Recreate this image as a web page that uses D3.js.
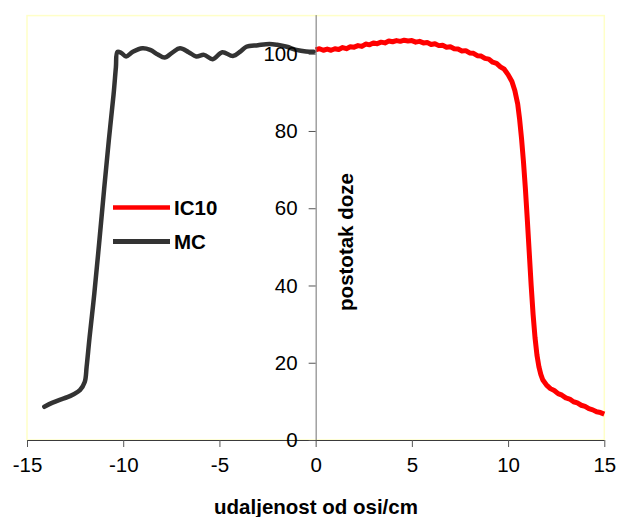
<!DOCTYPE html>
<html>
<head>
<meta charset="utf-8">
<script src="https://cdn.jsdelivr.net/npm/d3@7"></script>
<style>
  html, body { margin: 0; padding: 0; background: #fff; }
  svg { display: block; font-family: "Liberation Sans", Arial, sans-serif; }
</style>
</head>
<body>
<svg id="chart" width="618" height="517"></svg>
<script>
// ---- Data ----
const xTicks = [-15, -10, -5, 0, 5, 10, 15];
const yTicks = [0, 20, 40, 60, 80, 100];
const seriesNames = ["IC10", "MC"];

const mcX = [-14.1, -13.7, -13.3, -12.9, -12.6, -12.25, -12.0, -11.9, -11.75, -11.5, -11.25, -11.0, -10.75, -10.5, -10.38, -10.3,
  -10.1, -9.85, -9.5, -9.0, -8.6, -8.2, -7.85, -7.45, -7.05, -6.6, -6.2, -5.8, -5.35, -4.85, -4.3, -3.9, -3.6, -3.0, -2.4, -2.0, -1.5, -1.0, -0.5, -0.1];
const mcY = [8.6, 9.6, 10.4, 11.1, 11.8, 12.9, 15.0, 19.0, 26.5, 38.0, 51.0, 64.5, 77.5, 89.5, 96.5, 100.5,
  100.2, 99.3, 100.5, 101.4, 101.0, 99.8, 99.0, 100.3, 101.4, 100.4, 99.3, 99.7, 98.6, 100.4, 99.4, 100.6, 101.8, 102.2, 102.5, 102.3, 101.8, 101.0, 100.6, 100.5];

const icX = [0.0, 0.2, 0.4, 0.6, 0.8, 1.0, 1.2, 1.4, 1.6, 1.8, 2.0, 2.2, 2.4, 2.6, 2.8, 3.0, 3.2, 3.4, 3.6, 3.8,
  4.0, 4.2, 4.4, 4.6, 4.8, 5.0, 5.2, 5.4, 5.6, 5.8, 6.0, 6.2, 6.4, 6.6, 6.8, 7.0, 7.2, 7.4, 7.6, 7.8,
  8.0, 8.2, 8.4, 8.6, 8.8, 9.0, 9.2, 9.4, 9.6, 9.8, 10.0, 10.2, 10.35, 10.5, 10.6, 10.7, 10.8, 10.9, 11.0, 11.1,
  11.2, 11.3, 11.4, 11.5, 11.6, 11.7, 11.8, 12.0, 12.2, 12.4, 12.6, 12.8, 13.0, 13.2, 13.4, 13.6, 13.8, 14.0, 14.2, 14.4,
  14.6, 14.8, 15.0];
const icY = [101.0, 101.3, 100.9, 101.2, 100.9, 101.3, 101.1, 101.6, 101.3, 101.8, 101.7, 102.1, 101.9, 102.5, 102.3, 102.8, 102.6, 103.0, 102.8, 103.3,
  103.1, 103.4, 103.2, 103.5, 103.3, 103.4, 103.0, 103.2, 102.8, 102.9, 102.4, 102.6, 102.1, 102.2, 101.7, 101.8, 101.3, 101.2, 100.7, 100.8,
  100.2, 100.1, 99.5, 99.4, 98.8, 98.6, 97.8, 97.5, 96.6, 96.0, 94.6, 92.8, 90.5, 87.0, 83.0, 78.0, 72.0, 65.0, 57.0, 48.5,
  40.0, 32.5, 26.5, 22.0, 19.0, 17.0, 15.6, 14.2, 13.3, 12.8, 12.0, 11.6, 10.9, 10.6, 9.9, 9.6, 9.0, 8.7, 8.1, 7.8,
  7.3, 7.1, 6.7];

// ---- Layout ----
const svg = d3.select("#chart");
const padL = 27, padR = 604.3, padT = 15.1, padB = 440;
const x = d3.scaleLinear().domain([-15, 15]).range([padL, padR]);
const y = d3.scaleLinear().domain([0, 110]).range([padB, padT]);

// plot area
svg.append("rect")
  .attr("x", padL).attr("y", padT + 0.5)
  .attr("width", padR - padL).attr("height", padB - padT - 0.5)
  .attr("fill", "#ffffff").attr("stroke", "#ffffc8").attr("stroke-width", 1.5);

// x axis
const gx = svg.append("g").attr("transform", `translate(0,${padB})`)
  .call(d3.axisBottom(x).tickValues(xTicks).tickSize(7).tickPadding(10).tickFormat(d3.format("d")));
gx.select(".domain").attr("stroke", "#3a3a3a").attr("d", `M${padL},0.5H${padR}`);
gx.selectAll(".tick line").attr("stroke", "#555");
gx.selectAll(".tick text").attr("font-size", "20.5px").attr("fill", "#000")
  .text(d => d < 0 ? "-" + Math.abs(d) : d);

// lines
const mcData = mcX.map((v, i) => [v, mcY[i]]);
const icData = icX.map((v, i) => [v, icY[i]]);

svg.append("path")
  .attr("d", d3.line().x(d => x(d[0])).y(d => y(d[1])).curve(d3.curveCatmullRom.alpha(0.5))(mcData))
  .attr("fill", "none").attr("stroke", "#333333").attr("stroke-width", 4.5)
  .attr("stroke-linejoin", "round").attr("stroke-linecap", "round");

svg.append("path")
  .attr("d", d3.line().x(d => x(d[0])).y(d => y(d[1]))(icData))
  .attr("fill", "none").attr("stroke", "#ff0000").attr("stroke-width", 5)
  .attr("stroke-linejoin", "round");

// y axis at x = 0 (drawn over lines)
const gy = svg.append("g").attr("transform", `translate(${x(0)},0)`)
  .call(d3.axisLeft(y).tickValues(yTicks).tickSize(7).tickPadding(11));
gy.select(".domain").attr("stroke", "#707070").attr("d", `M0.5,${padT}V${padB}`);
gy.selectAll(".tick line").attr("stroke", "#555");
gy.selectAll(".tick text").attr("font-size", "20.5px").attr("fill", "#000");

// legend
const legend = svg.append("g");
const legColors = ["#ff0000", "#333333"];
const legY = [207.5, 241.5];
seriesNames.forEach((name, i) => {
  legend.append("line").attr("x1", 113).attr("x2", 170).attr("y1", legY[i]).attr("y2", legY[i])
    .attr("stroke", legColors[i]).attr("stroke-width", i === 0 ? 4.5 : 5);
  legend.append("text").attr("x", 174).attr("y", legY[i] + 7)
    .attr("font-size", "20.5px").attr("font-weight", "bold").attr("fill", "#000").text(name);
});

// axis titles
svg.append("text").attr("x", 316).attr("y", 513.5).attr("text-anchor", "middle")
  .attr("font-size", "20.5px").attr("font-weight", "bold").text("udaljenost od osi/cm");
svg.append("text").attr("transform", "translate(353,242) rotate(-90)").attr("text-anchor", "middle")
  .attr("font-size", "20.5px").attr("font-weight", "bold").text("postotak doze");
</script>
</body>
</html>
